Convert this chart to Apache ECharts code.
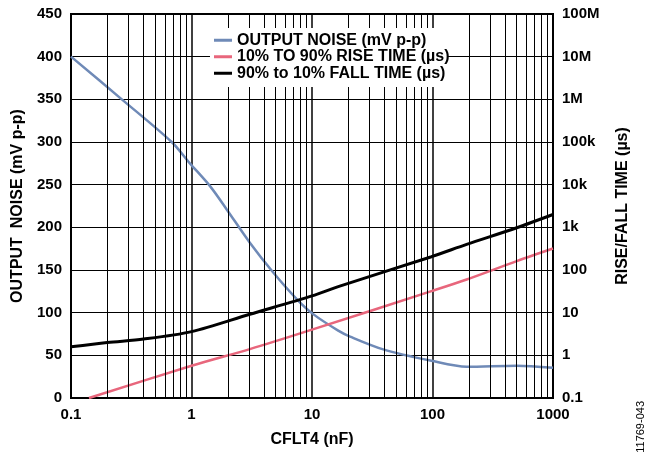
<!DOCTYPE html>
<html>
<head>
<meta charset="utf-8">
<script src="https://cdn.jsdelivr.net/npm/echarts@6/dist/echarts.min.js"></script>
<style>
  html, body { margin: 0; padding: 0; background: #fff; }
  #chart { width: 645px; height: 453px; }
</style>
</head>
<body>
<div id="chart"></div>
<script>
// data: x = CFLT4 (nF)
var noiseX = [0.1, 0.264, 0.685, 0.97, 1.43, 1.96, 3.05, 4.77, 7.46, 10.3, 16.5, 20.7, 39, 98, 192, 500, 1000];
var noiseY = [400, 350, 300, 275, 248, 221, 182, 147, 116, 98, 79, 72, 57, 43.6, 36.6, 37.8, 35.4];

var riseX = [0.141, 1, 3.05, 10, 98, 192, 500, 1000];
var riseY = [0.1, 0.57, 1.4, 4.0, 32, 60, 162, 320];

var fallX = [0.1, 0.2, 0.4, 1, 3.05, 10, 17, 98, 192, 500, 1000];
var fallY = [1.58, 2.0, 2.4, 3.6, 9.2, 24.7, 42, 205, 398, 977, 2000];

var rightLabels = ['0.1', '1', '10', '100', '1k', '10k', '100k', '1M', '10M', '100M'];

// minor vertical grid (2..9 per decade)
var minorX = [];
[0.1, 1, 10, 100].forEach(function (d) {
    for (var k = 2; k <= 9; k++) minorX.push(+(d * k).toPrecision(3));
});

function pairs(xs, ys) {
    var out = [];
    for (var i = 0; i < xs.length; i++) out.push([xs[i], ys[i]]);
    return out;
}

var FONT = 'Arial, "Liberation Sans", Helvetica, sans-serif';
var lbl = { color: '#000', fontWeight: 'bold', fontSize: 15, fontFamily: FONT };
var nameLbl = { color: '#000', fontWeight: 'bold', fontSize: 16, fontFamily: FONT };

var chart = echarts.init(document.getElementById('chart'));
var option = {
    animation: false,
    backgroundColor: '#fff',
    grid: {
        left: 71, right: 92, top: 14, bottom: 54,
        show: true, borderColor: '#000', borderWidth: 2, backgroundColor: 'transparent'
    },
    legend: {
        orient: 'vertical',
        left: 210, top: 28, z: 20,
        padding: [4, 4, 4, 4],
        itemWidth: 18, itemHeight: 3, itemGap: 0,
        icon: 'rect',
        selectedMode: false,
        textStyle: { color: '#000', fontWeight: 'bold', fontSize: 16, fontFamily: FONT, lineHeight: 16.5 },
        data: ['OUTPUT NOISE (mV p-p)', '10% TO 90% RISE TIME (µs)', '90% to 10% FALL TIME (µs)']
    },
    xAxis: {
        type: 'log', logBase: 10, min: 0.1, max: 1000,
        name: 'CFLT4 (nF)', nameLocation: 'middle', nameGap: 34,
        nameTextStyle: nameLbl,
        axisLine: { show: true, lineStyle: { color: '#000', width: 2 } },
        axisTick: { show: false },
        axisLabel: Object.assign({ margin: 9, formatter: function (v) { return String(+v.toPrecision(3)); } }, lbl),
        splitLine: { show: true, lineStyle: { color: '#000', width: 1.5 } },
        minorTick: { show: false }, minorSplitLine: { show: false }
    },
    yAxis: [{
        type: 'value', min: 0, max: 450, interval: 50,
        name: 'OUTPUT  NOISE (mV p-p)', nameLocation: 'middle', nameGap: 45, nameRotate: 90,
        nameTextStyle: nameLbl,
        axisLine: { show: true, lineStyle: { color: '#000', width: 2 } },
        axisTick: { show: false },
        axisLabel: Object.assign({ margin: 9 }, lbl),
        splitLine: { show: true, lineStyle: { color: '#000', width: 1 } }
    }, {
        type: 'log', logBase: 10, min: 0.1, max: 1e8, splitNumber: 9,
        position: 'right',
        name: 'RISE/FALL TIME (µs)', nameLocation: 'middle', nameGap: 62, nameRotate: 90,
        nameTextStyle: nameLbl,
        axisLine: { show: true, lineStyle: { color: '#000', width: 2 } },
        axisTick: { show: false },
        axisLabel: Object.assign({
            margin: 9,
            formatter: function (v) { return rightLabels[Math.round(Math.log10(v)) + 1]; }
        }, lbl),
        splitLine: { show: false }
    }],
    series: [{
        type: 'line', name: 'grid', data: [], z: 1, silent: true,
        markLine: {
            silent: true, symbol: ['none', 'none'], label: { show: false },
            lineStyle: { color: '#000', width: 1, type: 'solid' },
            emphasis: { disabled: true },
            data: minorX.map(function (v) { return { xAxis: v }; })
        }
    }, {
        type: 'line', name: 'OUTPUT NOISE (mV p-p)', yAxisIndex: 0, z: 3,
        data: pairs(noiseX, noiseY), smooth: 0.3, showSymbol: false,
        lineStyle: { color: '#6F8AB7', width: 2.5 }, itemStyle: { color: '#6F8AB7' }
    }, {
        type: 'line', name: '10% TO 90% RISE TIME (µs)', yAxisIndex: 1, z: 3,
        data: pairs(riseX, riseY), smooth: 0.3, showSymbol: false,
        lineStyle: { color: '#E8667C', width: 2.5 }, itemStyle: { color: '#E8667C' }
    }, {
        type: 'line', name: '90% to 10% FALL TIME (µs)', yAxisIndex: 1, z: 3,
        data: pairs(fallX, fallY), smooth: 0.3, showSymbol: false,
        lineStyle: { color: '#000', width: 3 }, itemStyle: { color: '#000' }
    }],
    graphic: [{
        type: 'rect', z: 15, silent: true,
        shape: { x: 210, y: 28, width: 238, height: 59 },
        style: { fill: '#fff' }
    }, {
        type: 'text', left: 635, top: 401, rotation: Math.PI / 2,
        style: { text: '11769-043', fill: '#000', fontSize: 11, fontFamily: FONT }
    }]
};
chart.setOption(option);
</script>
</body>
</html>
